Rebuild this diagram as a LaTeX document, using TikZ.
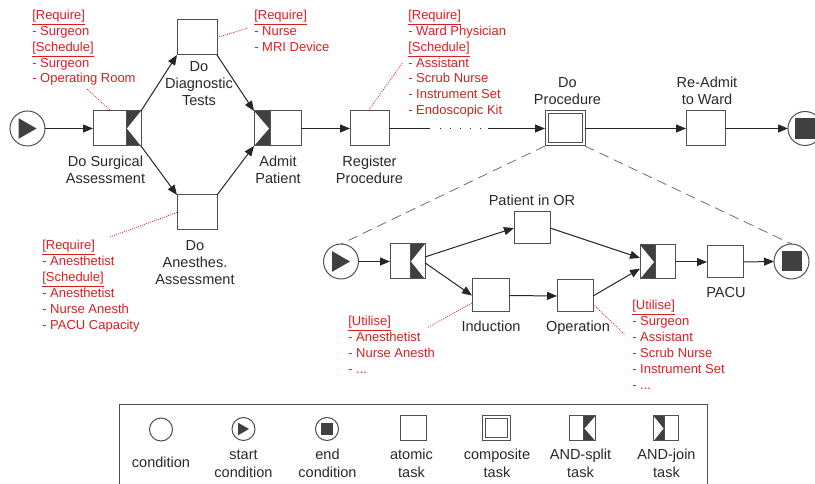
\documentclass[tikz,border=0pt]{standalone}
\usepackage{fontspec}
\setmainfont{Liberation Sans}
\usetikzlibrary{arrows.meta,calc}
\definecolor{notered}{RGB}{214,32,32}
\definecolor{boxc}{RGB}{80,80,80}
\definecolor{darkfill}{RGB}{64,64,64}
\definecolor{labelc}{RGB}{40,40,40}
\definecolor{dashc}{RGB}{110,110,110}
\newcommand\andsplit[2]{%
  \fill[darkfill] ($(#1.north east)+(-#2,0)$) rectangle (#1.south east);
  \fill[white] (#1.north east) -- (#1.south east) -- ($(#1.east)+(-#2+1,0)$) -- cycle;
  \draw[boxc,line width=0.75pt] ($(#1.north east)+(-#2,0)$) -- ($(#1.south east)+(-#2,0)$);
  \draw[boxc,line width=0.75pt] (#1.north west) rectangle (#1.south east);}
\newcommand\andjoin[2]{%
  \fill[darkfill] (#1.north west) rectangle ($(#1.south west)+(#2,0)$);
  \fill[white] (#1.north west) -- (#1.south west) -- ($(#1.west)+(#2-1,0)$) -- cycle;
  \draw[boxc,line width=0.75pt] ($(#1.north west)+(#2,0)$) -- ($(#1.south west)+(#2,0)$);
  \draw[boxc,line width=0.75pt] (#1.north west) rectangle (#1.south east);}
\newcommand\startmark[2]{% node, half size
  \fill[darkfill] ($(#1)+(-#2,-#2*1.15)$) -- ($(#1)+(-#2,#2*1.15)$) -- ($(#1)+(#2,0)$) -- cycle;}
\newcommand\stopmark[2]{%
  \fill[darkfill] ($(#1)+(-#2,-#2)$) rectangle ($(#1)+(#2,#2)$);}
\newcommand\compinner[2]{%
  \draw[boxc,line width=0.75pt] ($(#1.north west)+(#2,#2)$) rectangle ($(#1.south east)+(-#2,-#2)$);}
\begin{document}
\begin{tikzpicture}[x=0.75pt,y=-0.75pt,
  task/.style args={#1 by #2}{rectangle, draw=boxc, fill=white, line width=0.75pt, inner sep=0pt, outer sep=0pt, minimum width=#1*0.75pt, minimum height=#2*0.75pt},
  comp/.style args={#1 by #2}{task=#1 by #2},
  cond/.style={circle, draw=boxc, fill=white, line width=0.75pt, inner sep=0pt, outer sep=0pt, minimum size=#1*1.5pt},
  lbl/.style={font=\fontsize{10.9}{13}\selectfont, align=center, text=labelc, inner sep=0pt, anchor=base},
  note/.style={font=\fontsize{9.75}{11.9}\selectfont, align=left, text=notered, inner sep=0pt, anchor=base west},
  leg/.style={font=\fontsize{10.9}{13.9}\selectfont, align=center, text=labelc, inner sep=0pt, anchor=base},
  flow/.style={draw=black!85, line width=0.75pt},
  arr/.style={flow, -{Triangle[length=7.5pt,width=6pt]}},
  annot/.style={draw=notered, line width=0.5pt, dash pattern=on 0.8pt off 0.8pt},
  zoomline/.style={draw=dashc, line width=0.6pt, dash pattern=on 7.5pt off 4.5pt}]
\useasboundingbox (0,0) rectangle (815,484);

% ---------- main process ----------
\node[cond=17.5] (start) at (27.5,128.5) {};
\node[task=48 by 35] (split1) at (117,128.5) {};
\node[task=40 by 35] (diag) at (197,37.5) {};
\node[task=40 by 35] (anes) at (197,212.5) {};
\node[task=47 by 35] (join1) at (277.5,128.5) {};
\node[task=39 by 35] (reg) at (369.5,128.5) {};
\node[comp=40 by 35] (proc) at (565,128.5) {};
\node[task=39 by 35] (readmit) at (705.5,128.5) {};
\node[cond=17] (end) at (805,128.5) {};
\startmark{start}{9}
\stopmark{end}{10.5}
\andsplit{split1}{15}
\andjoin{join1}{16}
\compinner{proc}{3}

% (base anchor = baseline of the last line)
\node[lbl] (lsplit1) at (105.5,184) {Do Surgical\\Assessment};
\node[lbl] (ldiag) at (199,106) {Do\\Diagnostic\\Tests};
\node[lbl] (lanes) at (195,285) {Do\\Anesthes.\\Assessment};
\node[lbl] (ljoin1) at (278,184) {Admit\\Patient};
\node[lbl] (lreg) at (369.5,184) {Register\\Procedure};
\node[lbl] (lproc) at (567.5,105) {Do\\Procedure};
\node[lbl] (lreadmit) at (707,105) {Re-Admit\\to Ward};

\draw[arr] (start) -- (split1.west);
\draw[arr] (split1.north east) -- (diag.south west);
\draw[arr] (split1.south east) -- (anes.north west);
\draw[arr] (diag.south east) -- (join1.north west);
\draw[arr] (anes.north east) -- (join1.south west);
\draw[arr] (join1.east) -- (reg.west);
\coordinate (g1) at (430,128.5);
\coordinate (g2) at (440,128.5);
\coordinate (g3) at (481,128.5);
\coordinate (g4) at (488,128.5);
\draw[flow] (reg.east) -- (g1);
\draw[flow, dash pattern=on 0.75pt off 6.75pt] (g2) -- (g3);
\draw[arr] (g4) -- (proc.west);
\draw[arr] (proc.east) -- (readmit.west);
\draw[arr] (readmit.east) -- (end.west);

% ---------- annotations (main) ----------
\node[note] (n1) at (32,83) {\underline{[Require]}\\- Surgeon\\\underline{[Schedule]}\\- Surgeon\\- Operating Room};
\node[note] (n2) at (254,51.2) {\underline{[Require]}\\- Nurse\\- MRI Device};
\node[note] (n3) at (408,114.7) {\underline{[Require]}\\- Ward Physician\\\underline{[Schedule]}\\- Assistant\\- Scrub Nurse\\- Instrument Set\\- Endoscopic Kit};
\node[note] (n4) at (42,329.3) {\underline{[Require]}\\- Anesthetist\\\underline{[Schedule]}\\- Anesthetist\\- Nurse Anesth\\- PACU Capacity};
\coordinate (a1) at (87,89);
\coordinate (a2) at (248,28);
\coordinate (a3) at (403,62);
\coordinate (a4) at (110,237);
\draw[annot] (a1) -- ([xshift=-4.5pt]split1.north);
\draw[annot] (diag.east) -- (a2);
\draw[annot] ([xshift=-1pt]reg.north) -- (a3);
\draw[annot] (anes.west) -- (a4);

% ---------- sub process ----------
\node[cond=17.5] (sstart) at (341,261.5) {};
\node[task=35 by 35] (ssplit) at (407.5,261.5) {};
\node[task=36 by 32] (por) at (532,228) {};
\node[task=37 by 33] (ind) at (490.5,295.5) {};
\node[task=36 by 32] (op) at (575,296) {};
\node[task=35 by 34] (sjoin) at (657.5,262) {};
\node[task=36 by 32] (pacu) at (725,262) {};
\node[cond=17.5] (send) at (791.5,261.5) {};
\startmark{sstart}{9}
\stopmark{send}{10}
\andsplit{ssplit}{15}
\andjoin{sjoin}{15}

\node[lbl] (lpor) at (532,206) {Patient in OR};
\node[lbl] (lind) at (491,332) {Induction};
\node[lbl] (lop) at (578,332) {Operation};
\node[lbl] (lpacu) at (726,298) {PACU};

\draw[arr] (sstart) -- (ssplit.west);
\draw[arr] ([yshift=3.4pt]ssplit.east) -- (por.west);
\draw[arr] ([yshift=-1pt]ssplit.east) -- (ind.west);
\draw[arr] (por.east) -- ([yshift=3pt]sjoin.west);
\draw[arr] (ind.east) -- (op.west);
\draw[arr] (op.east) -- ([yshift=-5pt]sjoin.west);
\draw[arr] (sjoin.east) -- (pacu.west);
\draw[arr] (pacu.east) -- (send.west);

\draw[zoomline] (proc.south west) -- (sstart.north);
\draw[zoomline] (proc.south east) -- (send.north);

\node[note] (n5) at (348,373.6) {\underline{[Utilise]}\\- Anesthetist\\- Nurse Anesth\\- ...};
\node[note] (n6) at (632,389.3) {\underline{[Utilise]}\\- Surgeon\\- Assistant\\- Scrub Nurse\\- Instrument Set\\- ...};
\coordinate (a5) at (427,328);
\coordinate (a6) at (625,335);
\draw[annot] ([yshift=-5.6pt]ind.west) -- (a5);
\draw[annot] ([yshift=-6pt]op.east) -- (a6);

% ---------- legend ----------
\draw[boxc, line width=0.75pt] (119,490) -- (119,405) -- (707,405) -- (707,490);
\node[cond=11.5] (lgcond) at (161,429.5) {};
\node[cond=11.5] (lgstart) at (243.5,429) {};
\node[cond=11.5] (lgend) at (327,429) {};
\node[task=26 by 25] (lgatomic) at (413,428.5) {};
\node[comp=28 by 25] (lgcomp) at (496.5,428.5) {};
\node[task=26 by 25] (lgsplit) at (582.5,428.5) {};
\node[task=25 by 25] (lgjoin) at (666,428.5) {};
\startmark{lgstart}{5.5}
\stopmark{lgend}{6}
\compinner{lgcomp}{3}
\andsplit{lgsplit}{12}
\andjoin{lgjoin}{11}

\node[leg] (tcond) at (161,467.5) {condition};
\node[leg] (tstart) at (243.5,478) {start\\condition};
\node[leg] (tend) at (327.5,478) {end\\condition};
\node[leg] (tatomic) at (411.5,478) {atomic\\task};
\node[leg] (tcomp) at (497,478) {composite\\task};
\node[leg] (tsplit) at (580.5,478) {AND-split\\task};
\node[leg] (tjoin) at (666.5,478) {AND-join\\task};
\end{tikzpicture}
\end{document}
